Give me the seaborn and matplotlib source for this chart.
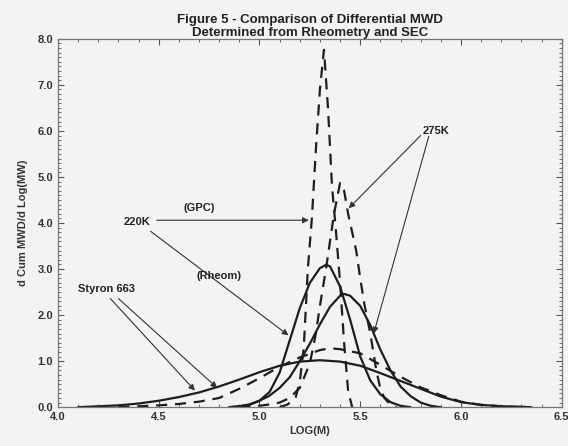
import numpy as np
import pandas as pd
import matplotlib
matplotlib.use("Agg")
import matplotlib.pyplot as plt
import seaborn as sns
from matplotlib.ticker import MultipleLocator, FormatStrFormatter

# ---- data ----
# Styron 663, rheometry (solid, broad)
sty_rheo_x = [4.10, 4.20, 4.30, 4.40, 4.50, 4.60, 4.70, 4.80, 4.90, 5.00, 5.10, 5.20,
              5.30, 5.40, 5.50, 5.60, 5.70, 5.80, 5.90, 6.00, 6.10, 6.20, 6.30, 6.35]
sty_rheo_y = [0.00, 0.02, 0.04, 0.08, 0.14, 0.22, 0.32, 0.45, 0.60, 0.76, 0.90, 0.99,
              1.02, 0.99, 0.90, 0.74, 0.57, 0.40, 0.23, 0.11, 0.05, 0.02, 0.01, 0.00]

# Styron 663, GPC (dashed)
sty_gpc_x = [4.30, 4.40, 4.50, 4.60, 4.70, 4.80, 4.90, 5.00, 5.10, 5.20, 5.30, 5.35,
             5.40, 5.50, 5.60, 5.70, 5.80, 5.90, 6.00, 6.10, 6.20, 6.30]
sty_gpc_y = [0.00, 0.02, 0.04, 0.07, 0.12, 0.20, 0.40, 0.63, 0.88, 1.08, 1.24, 1.28,
             1.26, 1.17, 0.92, 0.66, 0.43, 0.26, 0.12, 0.05, 0.02, 0.00]

# 220K, rheometry (solid)
k220_rheo_x = [4.85, 4.90, 4.95, 5.00, 5.05, 5.10, 5.15, 5.20, 5.25, 5.30, 5.33, 5.35,
               5.40, 5.45, 5.50, 5.55, 5.60, 5.65, 5.70, 5.75]
k220_rheo_y = [0.00, 0.02, 0.05, 0.14, 0.33, 0.75, 1.45, 2.15, 2.70, 3.02, 3.09, 3.06,
               2.62, 1.90, 1.10, 0.58, 0.28, 0.11, 0.03, 0.00]

# 275K, rheometry (solid)
k275_rheo_x = [4.85, 4.90, 4.95, 5.00, 5.05, 5.10, 5.15, 5.20, 5.25, 5.30, 5.35, 5.40,
               5.42, 5.45, 5.50, 5.55, 5.60, 5.65, 5.70, 5.75, 5.80, 5.85, 5.90]
k275_rheo_y = [0.00, 0.02, 0.06, 0.14, 0.25, 0.42, 0.65, 1.00, 1.38, 1.80, 2.18, 2.42,
               2.46, 2.42, 2.20, 1.78, 1.25, 0.80, 0.45, 0.24, 0.10, 0.03, 0.00]

# 220K, GPC (dashed, tall)
k220_gpc_x = [5.10, 5.14, 5.18, 5.20, 5.22, 5.24, 5.26, 5.28, 5.30, 5.32, 5.34, 5.36,
              5.38, 5.40, 5.42, 5.44, 5.46]
k220_gpc_y = [0.00, 0.06, 0.22, 0.55, 1.30, 3.00, 4.10, 5.60, 6.90, 7.76, 6.50, 4.80,
              3.80, 2.70, 1.40, 0.35, 0.00]

# 275K, GPC (dashed)
k275_gpc_x = [4.90, 5.00, 5.05, 5.10, 5.15, 5.20, 5.25, 5.28, 5.30, 5.33, 5.35, 5.37,
              5.40, 5.42, 5.44, 5.46, 5.48, 5.50, 5.52, 5.55, 5.58, 5.60, 5.62, 5.65, 5.68]
k275_gpc_y = [0.00, 0.03, 0.06, 0.10, 0.20, 0.42, 0.95, 1.60, 2.20, 3.00, 3.60, 4.20,
              4.87, 4.70, 4.20, 3.80, 3.40, 2.80, 2.25, 1.60, 0.80, 0.40, 0.20, 0.05, 0.00]

ink = "#1e1e1e"
sns.set_style("ticks")
plt.rcParams["font.family"] = ["Liberation Sans", "DejaVu Sans"]
plt.rcParams["font.weight"] = "bold"

fig = plt.figure(figsize=(5.68, 4.46), dpi=100)
fig.patch.set_facecolor("#f3f3f1")
ax = fig.add_axes([0.102, 0.087, 0.887, 0.826])
ax.set_facecolor("#f3f3f1")

series = [
    (sty_rheo_x, sty_rheo_y, "-"),
    (sty_gpc_x, sty_gpc_y, "--"),
    (k220_rheo_x, k220_rheo_y, "-"),
    (k275_rheo_x, k275_rheo_y, "-"),
    (k220_gpc_x, k220_gpc_y, "--"),
    (k275_gpc_x, k275_gpc_y, "--"),
]
for xs, ys, ls in series:
    sns.lineplot(x=xs, y=ys, ax=ax, color=ink, linewidth=1.6,
                 linestyle=ls, estimator=None, sort=False)
for line in ax.lines:
    if line.get_linestyle() == "--":
        line.set_dashes((5, 3.5))

ax.set_xlim(4.0, 6.5)
ax.set_ylim(0.0, 8.0)
ax.xaxis.set_major_locator(MultipleLocator(0.5))
ax.xaxis.set_minor_locator(MultipleLocator(0.1))
ax.yaxis.set_major_locator(MultipleLocator(1.0))
ax.yaxis.set_minor_locator(MultipleLocator(0.1))
ax.xaxis.set_major_formatter(FormatStrFormatter("%.1f"))
ax.yaxis.set_major_formatter(FormatStrFormatter("%.1f"))
ax.tick_params(which="both", direction="in", top=True, right=True, colors="#555555",
               labelcolor="#333333", labelsize=8)
ax.tick_params(which="major", length=4, width=0.8)
ax.tick_params(which="minor", length=2, width=0.6)
for s in ax.spines.values():
    s.set_color("#777777")
    s.set_linewidth(0.9)

ax.set_xlabel("LOG(M)", fontsize=8, fontweight="bold", color="#333333", labelpad=3)
ax.set_ylabel("d Cum MWD/d Log(MW)", fontsize=8, fontweight="bold", color="#333333",
              labelpad=7)
ax.set_title("Figure 5 - Comparison of Differential MWD\nDetermined from Rheometry and SEC",
             fontsize=9.5, fontweight="bold", color="#222222", pad=2, linespacing=1.05)

arrow = dict(arrowstyle="-|>", color="#333333", lw=0.8, mutation_scale=9,
             shrinkA=0, shrinkB=0)
txt = dict(fontsize=8, fontweight="bold", color="#222222", ha="center", va="center")

ax.text(5.875, 6.0, "275K", **txt)
ax.annotate("", xy=(5.443, 4.32), xytext=(5.80, 5.90), arrowprops=arrow)
ax.annotate("", xy=(5.567, 1.60), xytext=(5.84, 5.88), arrowprops=arrow)

ax.text(4.70, 4.33, "(GPC)", **txt)
ax.text(4.39, 4.02, "220K", **txt)
ax.annotate("", xy=(5.245, 4.06), xytext=(4.49, 4.06), arrowprops=arrow)
ax.annotate("", xy=(5.144, 1.56), xytext=(4.46, 3.82), arrowprops=arrow)

ax.text(4.80, 2.85, "(Rheom)", **txt)
ax.text(4.24, 2.57, "Styron 663", **txt)
ax.annotate("", xy=(4.68, 0.36), xytext=(4.26, 2.36), arrowprops=arrow)
ax.annotate("", xy=(4.79, 0.42), xytext=(4.30, 2.36), arrowprops=arrow)

fig.savefig("out.png", dpi=100, facecolor=fig.get_facecolor())
